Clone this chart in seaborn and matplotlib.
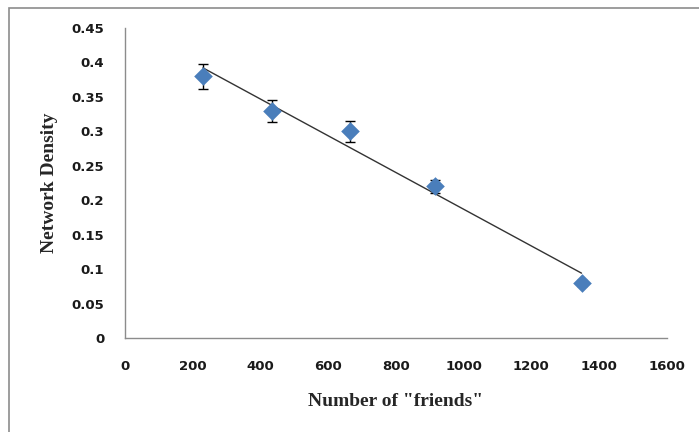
import numpy as np
import pandas as pd
import matplotlib
matplotlib.use("Agg")
import matplotlib.pyplot as plt
import seaborn as sns

# Data
friends = [230, 434, 664, 915, 1348]
density = [0.38, 0.33, 0.30, 0.22, 0.08]
density_err = [0.018, 0.016, 0.015, 0.010, 0.004]

df = pd.DataFrame({"friends": friends, "density": density, "err": density_err})

sns.set_style("white")

fig = plt.figure(figsize=(6.99, 4.32), dpi=100)
ax = fig.add_axes([0.179, 0.2176, 0.775, 0.7175])

# light frame around the chart area
fig.patches.append(plt.Rectangle((9 / 699, -0.05), 1.2, 1 - 8 / 432 + 0.05,
                                 transform=fig.transFigure, fill=False,
                                 edgecolor="#8c8c8c", linewidth=1.2))

# Linear trend line
sns.regplot(data=df, x="friends", y="density", ax=ax, ci=None, scatter=False,
            truncate=True, line_kws={"color": "#333333", "linewidth": 1.0})

# Error bars
ax.errorbar(df["friends"], df["density"], yerr=df["err"], fmt="none",
            ecolor="black", elinewidth=1.0, capsize=3.5, capthick=1.0, zorder=3)

# Points
sns.scatterplot(data=df, x="friends", y="density", ax=ax, marker="D", s=90,
                color="#4a7ebb", edgecolor="#4a7ebb", linewidth=0, zorder=4)

ax.set_xlim(0, 1600)
ax.set_ylim(0, 0.45)
ax.set_xticks(np.arange(0, 1601, 200))
ax.set_yticks(np.arange(0, 0.451, 0.05))
ax.set_xticklabels([str(v) for v in range(0, 1601, 200)])
ax.set_yticklabels(["0", "0.05", "0.1", "0.15", "0.2", "0.25", "0.3", "0.35", "0.4", "0.45"])

for side in ["top", "right"]:
    ax.spines[side].set_visible(False)
for side in ["left", "bottom"]:
    ax.spines[side].set_color("#8c8c8c")
    ax.spines[side].set_linewidth(1.0)

ax.tick_params(axis="both", direction="out", length=4, width=1.0, color="#8c8c8c",
               labelsize=9.5, pad=7)
ax.tick_params(axis="y", pad=11)
ax.tick_params(axis="x", pad=12)
for lbl in ax.get_xticklabels() + ax.get_yticklabels():
    lbl.set_fontweight("bold")
    lbl.set_color("#1a1a1a")

ax.set_xlabel('Number of "friends"', fontsize=14, fontweight="bold",
              family="Liberation Serif", labelpad=14)
ax.set_ylabel("Network Density", fontsize=14, fontweight="bold",
              family="Liberation Serif", labelpad=10)

plt.savefig("out.png", dpi=100)
